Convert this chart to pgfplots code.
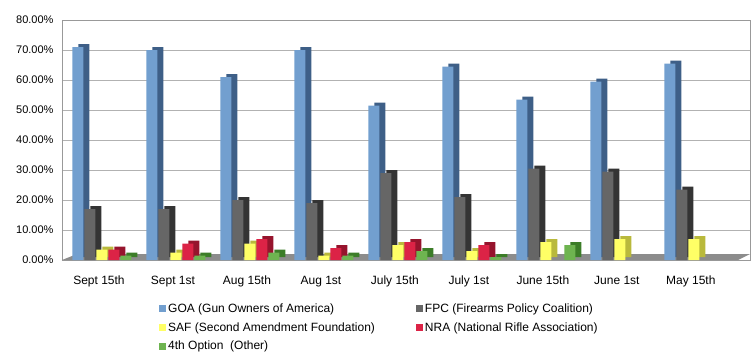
\documentclass[border=0pt]{standalone}
\usepackage{pgfplots}
\pgfplotsset{compat=1.18}
\usepackage{fontspec}
\setmainfont{Liberation Sans}
\definecolor{cGOA}{RGB}{114,159,207}
\definecolor{cGOAd}{RGB}{62,95,135}
\definecolor{cFPC}{RGB}{102,102,102}
\definecolor{cFPCd}{RGB}{52,52,52}
\definecolor{cSAF}{RGB}{255,255,102}
\definecolor{cSAFd}{RGB}{185,185,60}
\definecolor{cNRA}{RGB}{220,35,70}
\definecolor{cNRAd}{RGB}{150,20,45}
\definecolor{cOTH}{RGB}{110,180,80}
\definecolor{cOTHd}{RGB}{60,125,40}
\begin{document}
\begin{tikzpicture}
\begin{axis}[
 name=ax, at={(0,0)}, anchor=south west,
 scale only axis, width=688pt, height=240pt,
 xmin=-0.5, xmax=8.8, ymin=0, ymax=80,
 ybar, bar width=11pt,
 xtick={0,...,8},
 xticklabels={Sept 15th, Sept 1st, Aug 15th, Aug 1st, July 15th, July 1st, June 15th, June 1st, May 15th},
 ytick={0,10,...,80},
 yticklabel={\pgfmathprintnumber[fixed,fixed zerofill,precision=2]{\tick}\%},
 /pgf/number format/assume math mode=true,
 ymajorgrids, grid style={draw=black!30, line width=0.9pt},
 axis line style={draw=black!40},
 tick style={draw=none},
 yticklabel style={font=\fontsize{11}{13}\selectfont, xshift=-5pt},
 xticklabel style={font=\fontsize{12}{14}\selectfont, yshift=-8pt},
 legend style={at={(0.1366,-0.165)}, anchor=north west, draw=none, fill=none,
   font=\fontsize{12}{14}\selectfont, legend columns=2, row sep=4.5pt,
   /tikz/every even column/.append style={column sep=39pt}},
 legend cell align=left,
 legend image code/.code={\fill[#1] (0pt,-3.5pt) rectangle (7pt,3.5pt);},
]
% floor
\fill[black!45] (rel axis cs:0,0) -- (rel axis cs:0.9826,0) -- ([shift={(12pt,6pt)}]rel axis cs:0.9826,0) -- ([shift={(15pt,6pt)}]rel axis cs:0,0) -- cycle;
% depth (side) faces
\addplot[forget plot, fill=cGOAd, draw=none, bar shift=-15pt, yshift=3pt] coordinates {(0,71) (1,70) (2,61) (3,70) (4,51.5) (5,64.5) (6,53.5) (7,59.5) (8,65.5)};
\addplot[forget plot, fill=cFPCd, draw=none, bar shift=-3pt, yshift=3pt] coordinates {(0,17) (1,17) (2,20) (3,19) (4,29) (5,21) (6,30.5) (7,29.5) (8,23.5)};
\addplot[forget plot, fill=cSAFd, draw=none, bar shift=9pt, yshift=3pt] coordinates {(0,3.5) (1,2.5) (2,5.5) (3,1.5) (4,5) (5,3) (6,6) (7,7) (8,7)};
\addplot[forget plot, fill=cNRAd, draw=none, bar shift=21pt, yshift=3pt] coordinates {(0,3.5) (1,5.5) (2,7) (3,4) (4,6) (5,5)};
\addplot[forget plot, fill=cOTHd, draw=none, bar shift=33pt, yshift=3pt] coordinates {(0,1.5) (1,1.5) (2,2.5) (3,1.5) (4,3) (5,1) (6,5)};
% front faces
\addplot[fill=cGOA, draw=none, bar shift=-21pt] coordinates {(0,71) (1,70) (2,61) (3,70) (4,51.5) (5,64.5) (6,53.5) (7,59.5) (8,65.5)};
\addplot[fill=cFPC, draw=none, bar shift=-9pt] coordinates {(0,17) (1,17) (2,20) (3,19) (4,29) (5,21) (6,30.5) (7,29.5) (8,23.5)};
\addplot[fill=cSAF, draw=none, bar shift=3pt] coordinates {(0,3.5) (1,2.5) (2,5.5) (3,1.5) (4,5) (5,3) (6,6) (7,7) (8,7)};
\addplot[fill=cNRA, draw=none, bar shift=15pt] coordinates {(0,3.5) (1,5.5) (2,7) (3,4) (4,6) (5,5)};
\addplot[fill=cOTH, draw=none, bar shift=27pt] coordinates {(0,1.5) (1,1.5) (2,2.5) (3,1.5) (4,3) (5,1) (6,5)};
\legend{GOA (Gun Owners of America), FPC (Firearms Policy Coalition), SAF (Second Amendment Foundation), NRA (National Rifle Association), 4th Option\ \ (Other)}
\end{axis}
\pgfresetboundingbox
\path[use as bounding box] (-62pt,-96pt) rectangle (689pt,260pt);
\end{tikzpicture}
\end{document}
